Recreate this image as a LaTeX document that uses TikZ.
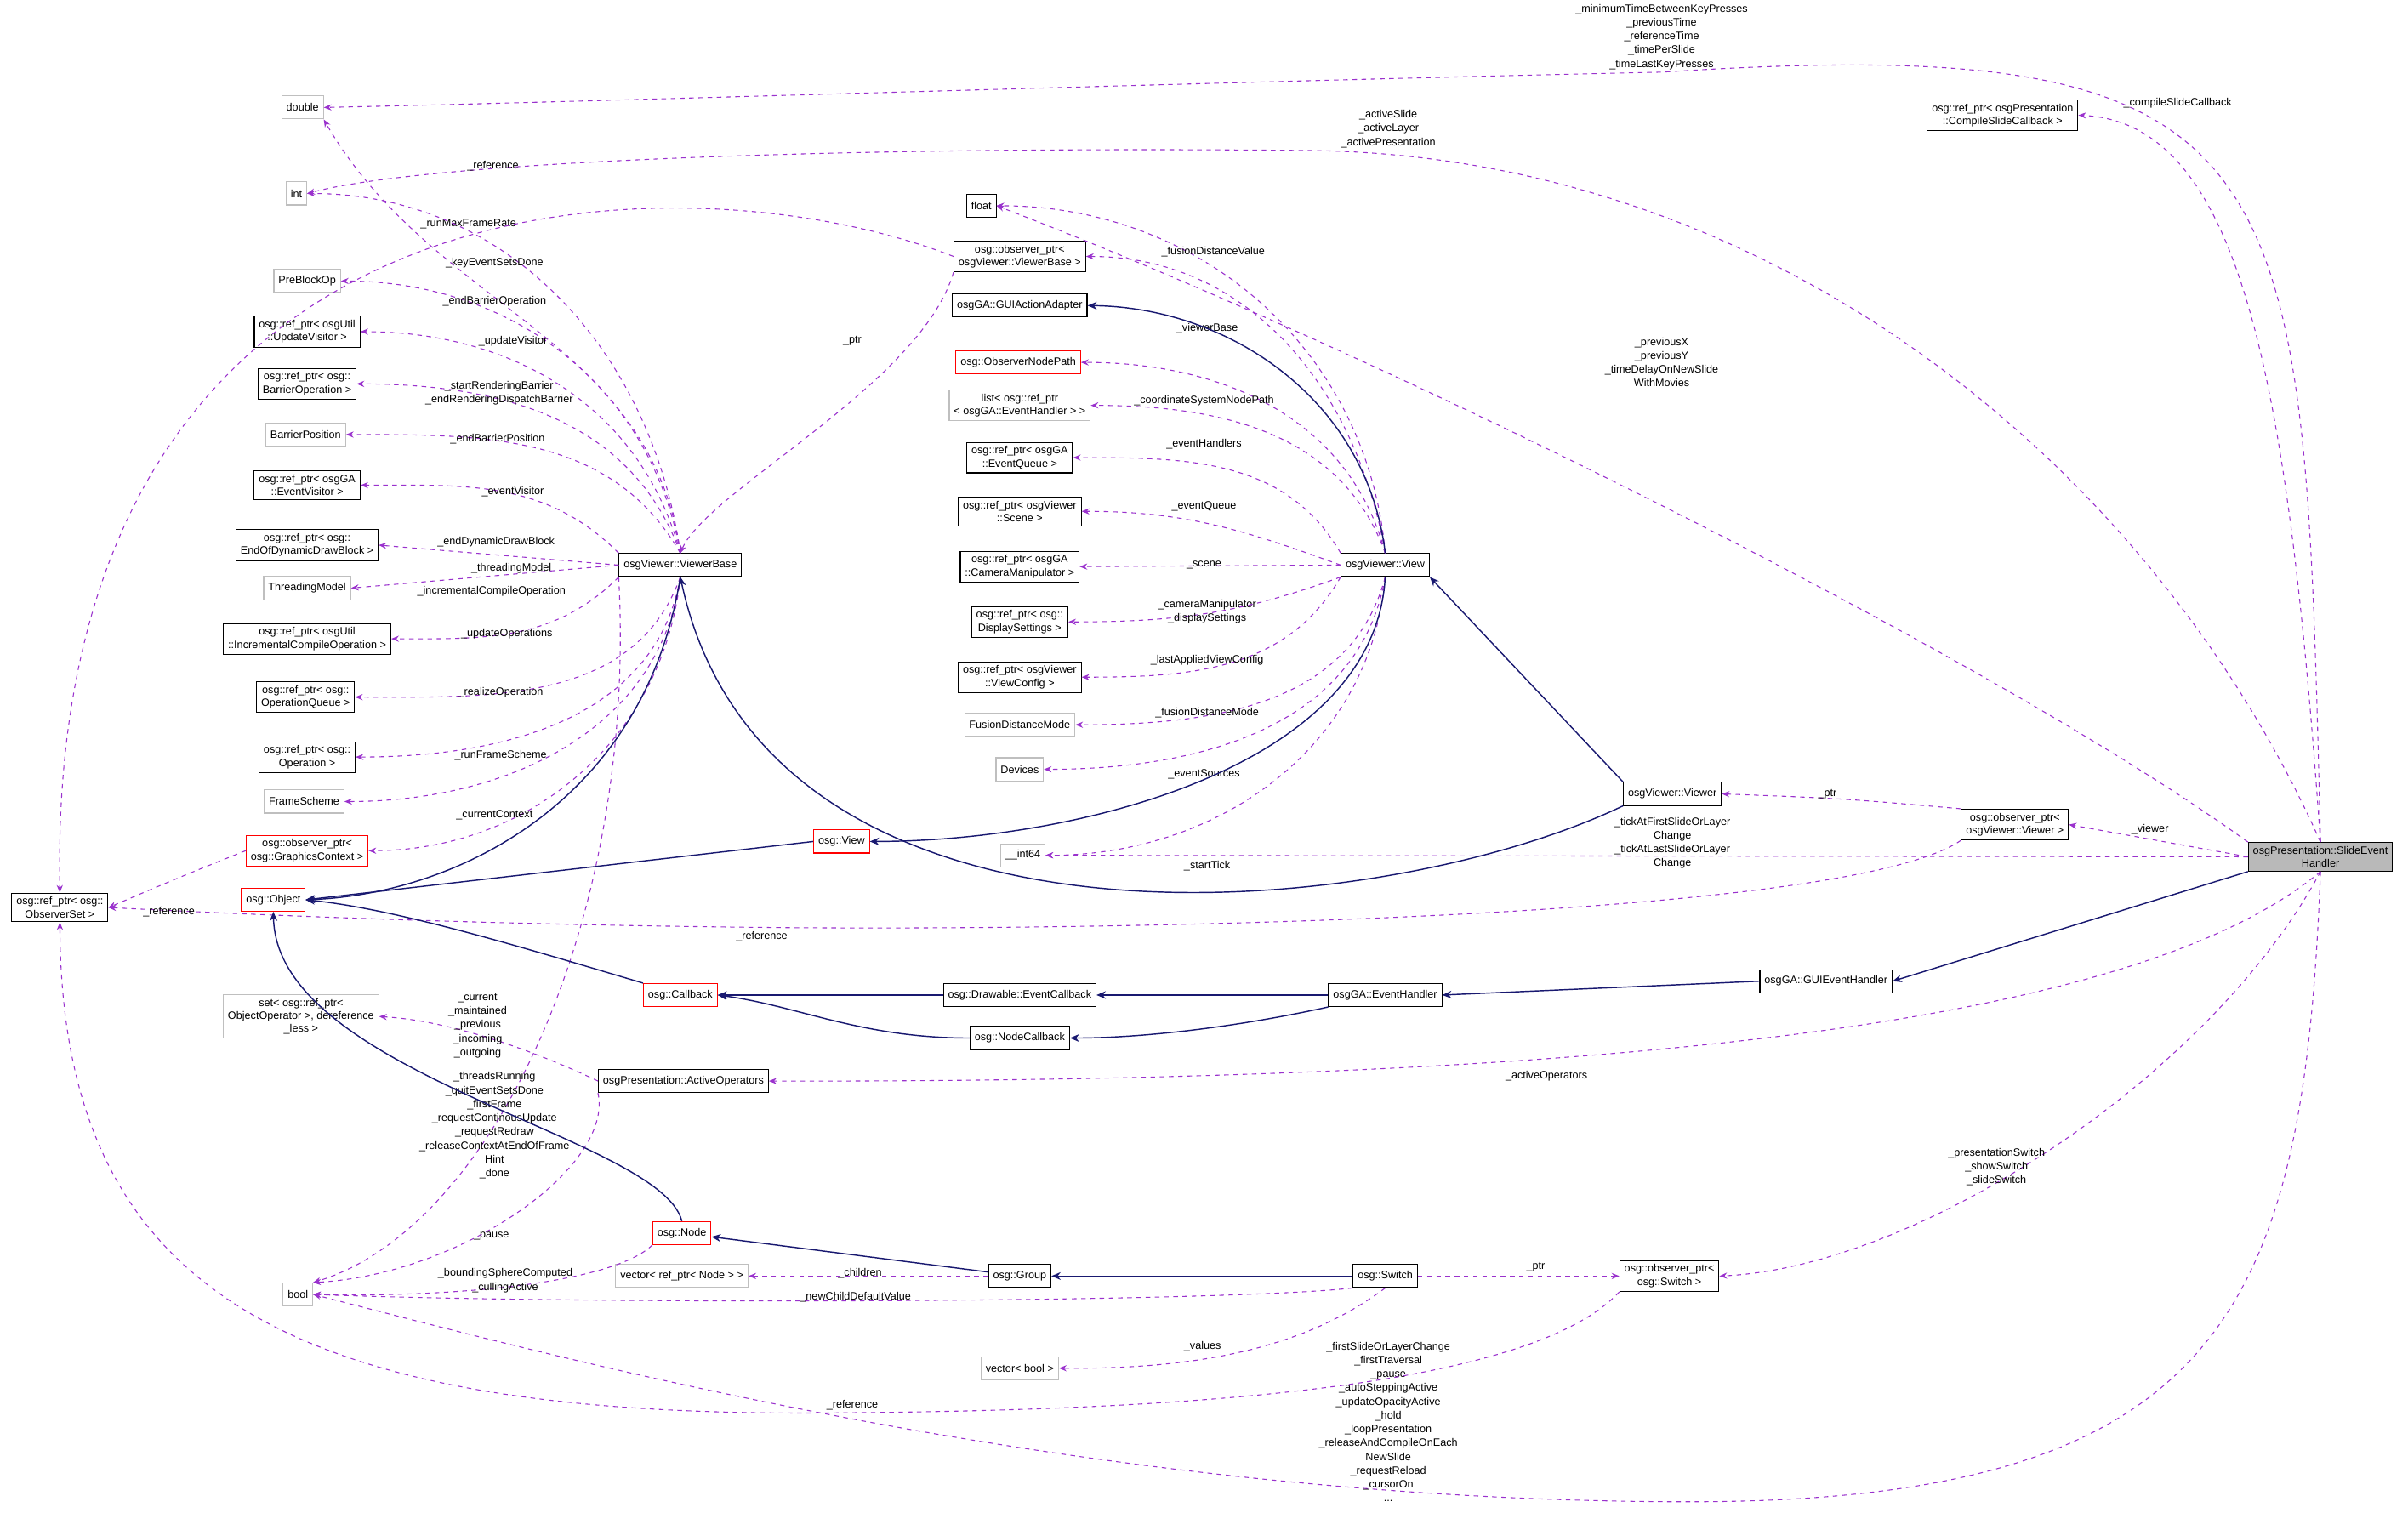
\documentclass[tikz,border=0pt]{standalone}
\usepackage{fontspec}
\setmainfont{Liberation Sans}
\usetikzlibrary{arrows.meta}
\definecolor{dep}{HTML}{9A32CD}
\definecolor{inh}{HTML}{191970}
\begin{document}
\begin{tikzpicture}[x=1pt,y=-1pt,
 every node/.style={font=\fontsize{7}{8.5}\selectfont},
 box/.style={draw=black,fill=white,align=center,inner xsep=3pt,inner ysep=2.5pt,minimum height=15pt,line width=.6pt},
 gbox/.style={box,draw=gray!50},
 rbox/.style={box,draw=red},
 sbox/.style={box,fill=gray!55},
 lab/.style={align=center,inner sep=0pt,font=\fontsize{7}{9}\selectfont},
 dep/.style={draw=dep,dashed,line width=.6pt,-{Stealth[length=5pt,width=4pt]}},
 inh/.style={draw=inh,line width=.8pt,-{Stealth[length=6pt,width=5pt]}}]
\useasboundingbox (0,0) rectangle (1568,985);
% nodes
\node[gbox] (dbl) at (197,70) {double};
\node[gbox] (int) at (193,126) {int};
\node[gbox] (pbo) at (200,183) {PreBlockOp};
\node[box] (uv) at (200,216) {osg::ref\_ptr< osgUtil\\::UpdateVisitor >};
\node[box] (bo) at (200,250) {osg::ref\_ptr< osg::\\BarrierOperation >};
\node[gbox] (bp) at (199,283) {BarrierPosition};
\node[box] (ev) at (200,316) {osg::ref\_ptr< osgGA\\::EventVisitor >};
\node[box] (eod) at (200,355) {osg::ref\_ptr< osg::\\EndOfDynamicDrawBlock >};
\node[gbox] (tm) at (200,383) {ThreadingModel};
\node[box] (ico) at (200,416) {osg::ref\_ptr< osgUtil\\::IncrementalCompileOperation >};
\node[box] (oq) at (199,454) {osg::ref\_ptr< osg::\\OperationQueue >};
\node[box] (op) at (200,493) {osg::ref\_ptr< osg::\\Operation >};
\node[gbox] (fs) at (198,522) {FrameScheme};
\node[rbox] (gc) at (200,554) {osg::observer\_ptr<\\osg::GraphicsContext >};
\node[rbox] (obj) at (178,586) {osg::Object};
\node[box] (oset) at (39,591) {osg::ref\_ptr< osg::\\ObserverSet >};
\node[gbox] (set) at (196,662) {set< osg::ref\_ptr<\\ObjectOperator >, dereference\\\_less >};
\node[gbox] (bool) at (194,843) {bool};
\node[box] (vb) at (443,368) {osgViewer::ViewerBase};
\node[box] (ovb) at (664,167) {osg::observer\_ptr<\\osgViewer::ViewerBase >};
\node[box] (flt) at (639,134) {float};
\node[box] (csc) at (1304,75) {osg::ref\_ptr< osgPresentation\\::CompileSlideCallback >};
\node[box] (gaa) at (664,199) {osgGA::GUIActionAdapter};
\node[rbox] (onp) at (663,236) {osg::ObserverNodePath};
\node[gbox] (lst) at (664,264) {list< osg::ref\_ptr\\< osgGA::EventHandler > >};
\node[box] (eq) at (664,298) {osg::ref\_ptr< osgGA\\::EventQueue >};
\node[box] (scn) at (664,333) {osg::ref\_ptr< osgViewer\\::Scene >};
\node[box] (cm) at (664,369) {osg::ref\_ptr< osgGA\\::CameraManipulator >};
\node[box] (ds) at (664,405) {osg::ref\_ptr< osg::\\DisplaySettings >};
\node[box] (vc) at (664,441) {osg::ref\_ptr< osgViewer\\::ViewConfig >};
\node[gbox] (fdm) at (664,472) {FusionDistanceMode};
\node[gbox] (dev) at (664,501) {Devices};
\node[gbox] (i64) at (666,557) {\_\_int64};
\node[box] (view) at (902,368) {osgViewer::View};
\node[rbox] (oview) at (548,548) {osg::View};
\node[box] (viewer) at (1089,517) {osgViewer::Viewer};
\node[box] (ov) at (1312,537) {osg::observer\_ptr<\\osgViewer::Viewer >};
\node[sbox] (seh) at (1511,558) {osgPresentation::SlideEvent\\Handler};
\node[rbox] (cb) at (443,648) {osg::Callback};
\node[box] (dec) at (664,648) {osg::Drawable::EventCallback};
\node[box] (eh) at (902,648) {osgGA::EventHandler};
\node[box] (gui) at (1189,639) {osgGA::GUIEventHandler};
\node[box] (nc) at (664,676) {osg::NodeCallback};
\node[box] (ao) at (445,704) {osgPresentation::ActiveOperators};
\node[rbox] (node) at (444,803) {osg::Node};
\node[gbox] (vn) at (444,831) {vector< ref\_ptr< Node > >};
\node[box] (grp) at (664,831) {osg::Group};
\node[box] (sw) at (902,831) {osg::Switch};
\node[box] (os) at (1087,831) {osg::observer\_ptr<\\osg::Switch >};
\node[gbox] (vbool) at (664,891) {vector< bool >};
% SEH edges
\draw[dep] (seh.north) .. controls (1500,100) and (1500,20) .. (1082,47) .. controls (800,53) and (400,66) .. (dbl.east);
\node[lab] at (1082,24) {\_minimumTimeBetweenKeyPresses\\\_previousTime\\\_referenceTime\\\_timePerSlide\\\_timeLastKeyPresses};
\draw[dep] (seh.north) .. controls (1490,250) and (1460,80) .. (csc.east);
\node[lab] at (1418,67) {\_compileSlideCallback};
\draw[dep] (seh.north) .. controls (1400,300) and (1150,100) .. (850,98) .. controls (550,95) and (280,105) .. (int.east);
\node[lab] at (904,84) {\_activeSlide\\\_activeLayer\\\_activePresentation};
\draw[dep] (seh.north west) .. controls (1300,430) and (900,230) .. (flt.east);
\node[lab] at (1082,236) {\_previousX\\\_previousY\\\_timeDelayOnNewSlide\\WithMovies};
\draw[dep] (seh.west) -- (ov.east);
\node[lab] at (1400,540) {\_viewer};
\draw[dep] (seh.west) -- (i64.east);
\node[lab] at (1089,549) {\_tickAtFirstSlideOrLayer\\Change\\\_tickAtLastSlideOrLayer\\Change};
\draw[inh] (seh.south west) -- (gui.east);
\draw[dep] (seh.south) .. controls (1400,660) and (1100,705) .. (ao.east);
\node[lab] at (1007,701) {\_activeOperators};
\draw[dep] (seh.south) .. controls (1440,700) and (1250,825) .. (os.east);
\node[lab] at (1300,760) {\_presentationSwitch\\\_showSwitch\\\_slideSwitch};
\draw[dep] (seh.south) .. controls (1500,850) and (1450,978) .. (1100,978) .. controls (700,978) and (350,880) .. (bool.east);
\node[lab] at (904,926) {\_firstSlideOrLayerChange\\\_firstTraversal\\\_pause\\\_autoSteppingActive\\\_updateOpacityActive\\\_hold\\\_loopPresentation\\\_releaseAndCompileOnEach\\NewSlide\\\_requestReload\\\_cursorOn\\...};
% observer viewer
\draw[dep] (ov.north west) .. controls (1200,520) .. (viewer.east);
\node[lab] at (1190,517) {\_ptr};
\draw[dep] (ov.south west) .. controls (1200,600) and (700,606) .. (500,604) .. controls (300,602) and (150,595) .. (oset.east);
\node[lab] at (496,610) {\_reference};
% switch
\draw[dep] (os.south west) .. controls (1000,900) and (800,918) .. (555,920) .. controls (200,925) and (40,850) .. (oset.south);
\node[lab] at (555,915) {\_reference};
\draw[dep] (sw) -- (os);
\node[lab] at (1000,825) {\_ptr};
\draw[dep] (sw.south west) .. controls (800,848) and (400,850) .. (bool.east);
\node[lab] at (557,845) {\_newChildDefaultValue};
\draw[dep] (sw.south) .. controls (860,870) and (800,892) .. (vbool.east);
\node[lab] at (783,877) {\_values};
\draw[dep] (grp) -- (vn);
\node[lab] at (560,829) {\_children};
\draw[dep] (node.south west) .. controls (400,835) and (300,845) .. (bool.east);
\node[lab] at (329,834) {\_boundingSphereComputed\\\_cullingActive};
\draw[dep] (ao.west) .. controls (360,690) and (300,665) .. (set.east);
\node[lab] at (311,668) {\_current\\\_maintained\\\_previous\\\_incoming\\\_outgoing};
\draw[dep] (ao.south west) .. controls (400,760) and (300,830) .. (bool.north east);
\node[lab] at (320,805) {\_pause};
\draw[dep] (vb.south west) .. controls (415,600) and (320,800) .. (bool.north east);
\node[lab] at (322,733) {\_threadsRunning\\\_quitEventSetsDone\\\_firstFrame\\\_requestContinousUpdate\\\_requestRedraw\\\_releaseContextAtEndOfFrame\\Hint\\\_done};
% VB fan
\draw[dep] (vb.north) to[out=98,in=300] (dbl.south east);
\node[lab] at (305,146) {\_runMaxFrameRate};
\draw[dep] (vb.north) to[out=98,in=0] (int.east);
\node[lab] at (322,171) {\_keyEventSetsDone};
\draw[dep] (vb.north) to[out=100,in=0] (pbo.east);
\node[lab] at (322,196) {\_endBarrierOperation};
\draw[dep] (vb.north) to[out=105,in=0] (uv.east);
\node[lab] at (334,222) {\_updateVisitor};
\draw[dep] (vb.north) to[out=110,in=0] (bo.east);
\node[lab] at (325,256) {\_startRenderingBarrier\\\_endRenderingDispatchBarrier};
\draw[dep] (vb.north) to[out=120,in=0] (bp.east);
\node[lab] at (324,286) {\_endBarrierPosition};
\draw[dep] (vb.north west) to[out=135,in=0] (ev.east);
\node[lab] at (334,320) {\_eventVisitor};
\draw[dep] (vb.west) -- (eod.east);
\node[lab] at (323,353) {\_endDynamicDrawBlock};
\draw[dep] (vb.west) -- (tm.east);
\node[lab] at (333,370) {\_threadingModel};
\draw[dep] (vb.south west) to[out=225,in=0] (ico.east);
\node[lab] at (320,385) {\_incrementalCompileOperation};
\draw[dep] (vb.south) to[out=250,in=0] (oq.east);
\node[lab] at (330,413) {\_updateOperations};
\draw[dep] (vb.south) to[out=260,in=0] (op.east);
\node[lab] at (326,451) {\_realizeOperation};
\draw[dep] (vb.south) to[out=262,in=0] (fs.east);
\node[lab] at (326,492) {\_runFrameScheme};
\draw[dep] (vb.south) to[out=264,in=0] (gc.east);
\node[lab] at (322,531) {\_currentContext};
\draw[dep] (gc.west) .. controls (120,570) .. (oset.east);
\node[lab] at (110,594) {\_reference};
\draw[dep] (ovb.west) .. controls (450,100) and (30,100) .. (oset.north);
\node[lab] at (321,108) {\_reference};
\draw[dep] (ovb.south west) .. controls (600,250) and (460,320) .. (vb.north);
\node[lab] at (555,222) {\_ptr};
% View fan
\draw[dep] (view.north) to[out=95,in=0] (flt.east);
\node[lab] at (790,164) {\_fusionDistanceValue};
\draw[dep] (view.north) to[out=100,in=0] (ovb.east);
\node[lab] at (786,214) {\_viewerBase};
\draw[dep] (view.north) to[out=105,in=0] (onp.east);
\node[lab] at (784,261) {\_coordinateSystemNodePath};
\draw[dep] (view.north) to[out=110,in=0] (lst.east);
\node[lab] at (784,289) {\_eventHandlers};
\draw[dep] (view.north west) to[out=120,in=0] (eq.east);
\node[lab] at (784,330) {\_eventQueue};
\draw[dep] (view.west) to[out=160,in=0] (scn.east);
\node[lab] at (784,368) {\_scene};
\draw[dep] (view.west) -- (cm.east);
\node[lab] at (786,394) {\_cameraManipulator};
\draw[dep] (view.south west) to[out=200,in=0] (ds.east);
\node[lab] at (786,403) {\_displaySettings};
\draw[dep] (view.south west) to[out=240,in=0] (vc.east);
\node[lab] at (786,430) {\_lastAppliedViewConfig};
\draw[dep] (view.south) to[out=255,in=0] (fdm.east);
\node[lab] at (786,464) {\_fusionDistanceMode};
\draw[dep] (view.south) to[out=260,in=0] (dev.east);
\node[lab] at (784,504) {\_eventSources};
\draw[dep] (view.south) to[out=265,in=0] (i64.east);
\node[lab] at (786,564) {\_startTick};
% inheritance
\draw[inh] (vb.south) .. controls (420,520) and (300,582) .. (obj.east);
\draw[inh] (view.north) .. controls (890,260) and (800,200) .. (gaa.east);
\draw[inh] (view.south) .. controls (895,500) and (700,548) .. (oview.east);
\draw[inh] (viewer.south west) .. controls (900,600) and (500,640) .. (vb.south);
\draw[inh] (viewer.north west) -- (view.south east);
\draw[inh] (oview.west) -- (obj.east);
\draw[inh] (cb.north west) .. controls (350,620) and (260,592) .. (obj.east);
\draw[inh] (dec) -- (cb);
\draw[inh] (nc.west) .. controls (560,676) and (520,655) .. (cb.east);
\draw[inh] (eh) -- (dec);
\draw[inh] (eh.south west) .. controls (800,670) and (740,676) .. (nc.east);
\draw[inh] (gui.west) -- (eh.east);
\draw[inh] (node.north) .. controls (430,740) and (180,700) .. (obj.south);
\draw[inh] (grp) -- (node);
\draw[inh] (sw) -- (grp);
\end{tikzpicture}
\end{document}
